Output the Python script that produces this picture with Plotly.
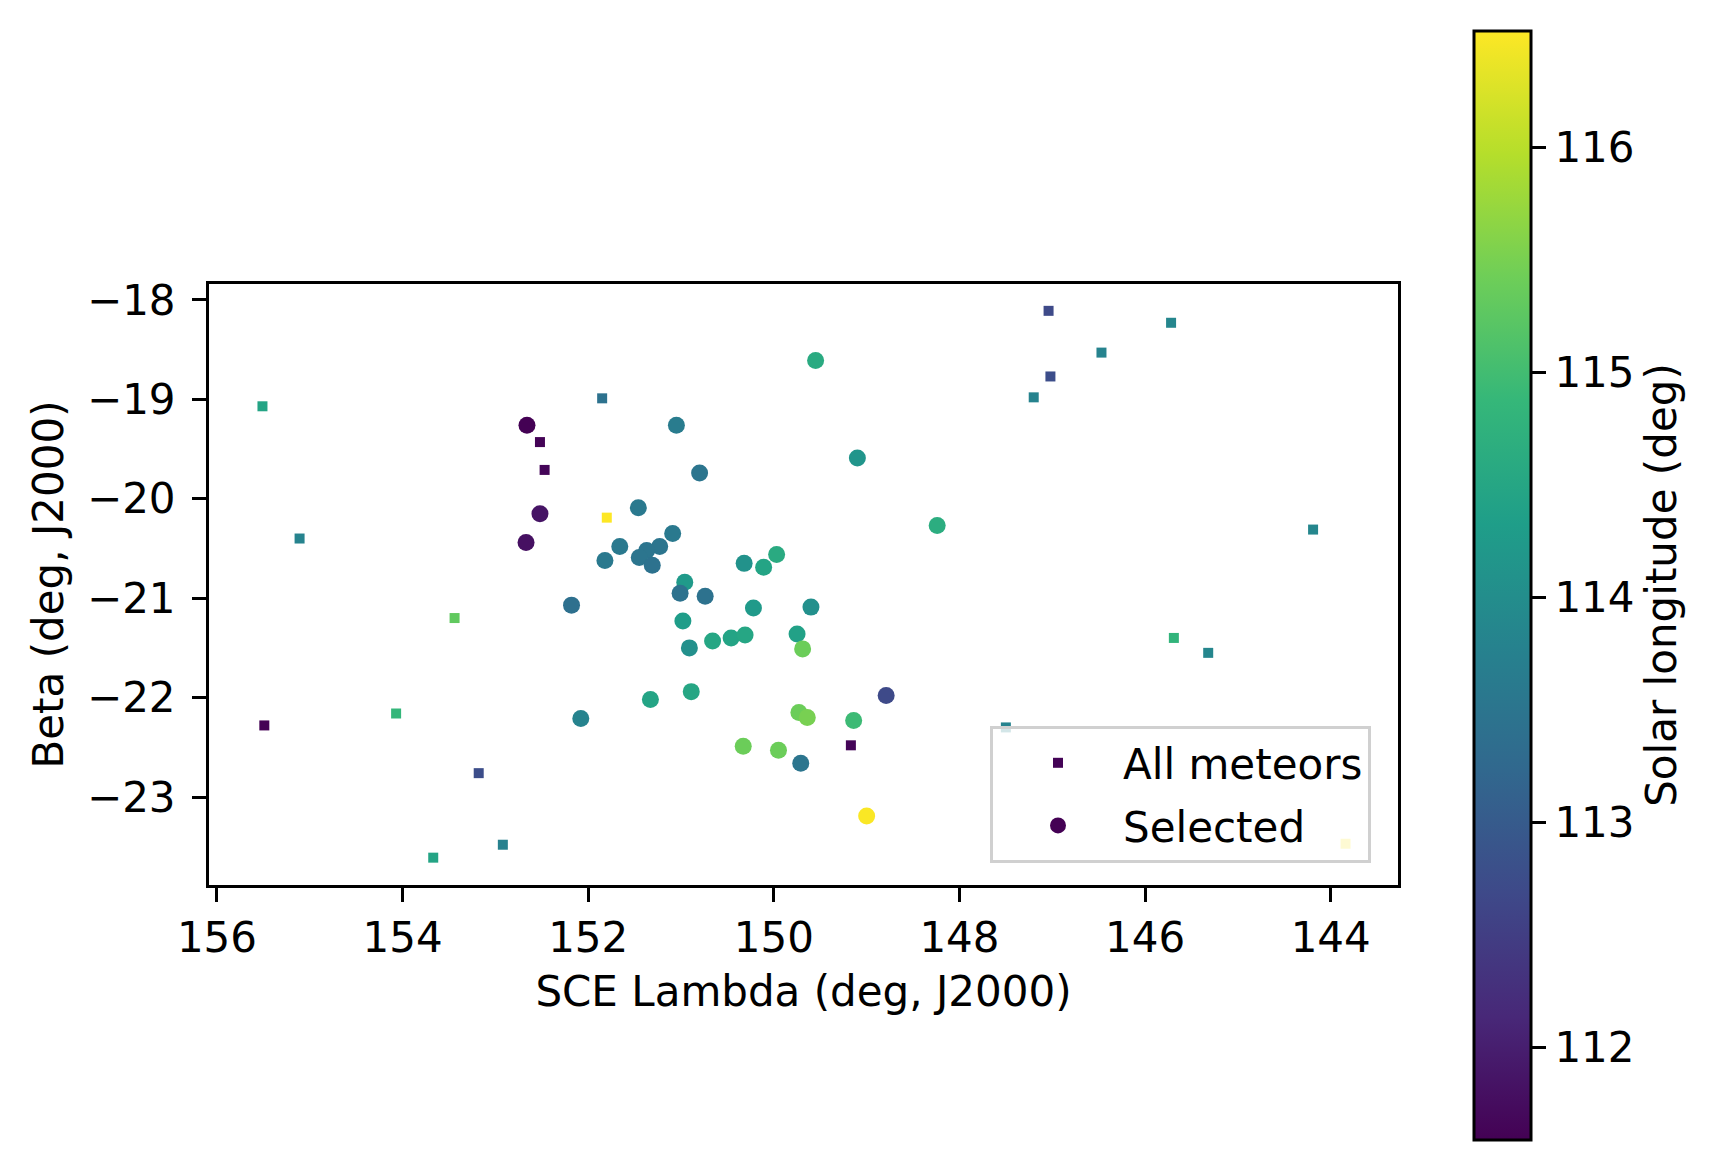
import plotly.graph_objects as go

# all meteors (small squares)
all_lam = [152.52, 155.51, 155.11, 155.49, 153.44, 154.07, 153.18, 153.67, 152.92,
           152.47, 151.85, 151.80, 147.04, 147.02, 147.20, 146.47, 145.72, 144.19,
           145.69, 145.32, 149.17, 147.50, 143.84]
all_beta = [-19.43, -19.07, -20.40, -22.28, -21.20, -22.16, -22.76, -23.61, -23.48,
            -19.71, -18.99, -20.19, -18.11, -18.77, -18.98, -18.53, -18.23, -20.31,
            -21.40, -21.55, -22.48, -22.30, -23.47]
all_sol = [111.62, 114.45, 113.80, 111.60, 115.30, 114.85, 112.75, 114.45, 113.75,
           111.65, 113.45, 116.52, 112.70, 112.75, 113.80, 113.80, 113.85, 113.85,
           114.80, 113.85, 111.65, 113.80, 116.50]

# selected meteors (circles)
sel_lam = [152.66, 152.52, 152.67, 151.05, 150.80, 151.46, 151.09, 151.23, 151.37,
           151.66, 151.82, 151.45, 151.31, 152.18, 150.96, 151.01, 150.74, 150.98,
           150.91, 150.66, 150.46, 150.31, 151.33, 150.89, 152.08, 149.55, 149.10,
           148.24, 150.32, 150.11, 149.97, 150.22, 149.60, 149.75, 149.69, 149.73,
           149.64, 149.14, 148.79, 150.33, 149.95, 149.71, 149.00]
sel_beta = [-19.26, -20.15, -20.44, -19.26, -19.74, -20.09, -20.35, -20.48, -20.52,
            -20.48, -20.62, -20.59, -20.67, -21.07, -20.84, -20.95, -20.98, -21.23,
            -21.50, -21.43, -21.40, -21.37, -22.02, -21.94, -22.21, -18.61, -19.59,
            -20.27, -20.65, -20.69, -20.56, -21.10, -21.09, -21.36, -21.51, -22.15,
            -22.20, -22.23, -21.98, -22.49, -22.53, -22.66, -23.19]
sel_sol = [111.59, 111.85, 111.80, 113.65, 113.50, 113.60, 113.60, 113.50, 113.50,
           113.60, 113.60, 113.50, 113.45, 113.40, 114.25, 113.45, 113.45, 114.30,
           114.05, 114.50, 114.45, 114.50, 114.45, 114.50, 113.80, 114.60, 114.15,
           114.65, 114.10, 114.45, 114.60, 114.25, 114.05, 114.40, 115.40, 115.40,
           115.50, 114.95, 112.70, 115.40, 115.40, 113.50, 116.50]

cb_ticks = [112, 113, 114, 115, 116]
x_ticks = [156, 154, 152, 150, 148, 146, 144]
y_ticks = [-18, -19, -20, -21, -22, -23]

W, H = 1725, 1159
OFF = 8  # page body margin
FONT = "DejaVu Sans"
FS = 42
CMIN, CMAX = 111.59, 116.52

colorbar = dict(
    x=(1474 - OFF) / W, xanchor="left", xref="paper",
    y=1 - (585 - OFF) / H, yanchor="middle", len=1109 / H, lenmode="fraction",
    thickness=57, thicknessmode="pixels", xpad=0, ypad=0,
    outlinewidth=3, outlinecolor="black",
    ticks="outside", ticklen=14, tickwidth=3, tickcolor="black",
    tickvals=cb_ticks, tickfont=dict(family=FONT, size=FS, color="black"),
    title=dict(text="Solar longitude (deg)", side="right",
               font=dict(family=FONT, size=FS, color="black")),
)

fig = go.Figure()

fig.add_trace(go.Scatter(
    x=all_lam, y=all_beta, mode="markers", name="All meteors", legendgroup="a",
    marker=dict(symbol="square", size=10, color=all_sol, colorscale="Viridis",
                cmin=CMIN, cmax=CMAX, showscale=False, line=dict(width=0)),
))
fig.add_trace(go.Scatter(
    x=sel_lam, y=sel_beta, mode="markers", name="Selected", legendgroup="b",
    marker=dict(symbol="circle", size=17, color=sel_sol, colorscale="Viridis",
                cmin=CMIN, cmax=CMAX, showscale=True, colorbar=colorbar,
                line=dict(width=0)),
))

axis_common = dict(
    showline=True, linewidth=3, linecolor="black", mirror=True,
    ticks="outside", ticklen=14, tickwidth=3, tickcolor="black",
    showgrid=False, zeroline=False, automargin=False,
    tickfont=dict(family=FONT, size=FS, color="black"),
)

fig.update_layout(
    width=W, height=H,
    margin=dict(l=0, r=0, t=0, b=0, autoexpand=False),
    paper_bgcolor="white", plot_bgcolor="white",
    font=dict(family=FONT, size=FS, color="black"),
    xaxis=dict(axis_common, domain=[(209 - OFF) / W, (1398 - OFF) / W],
               range=[156.086, 143.275], tickvals=x_ticks,
               ticklabelstandoff=0,
               title=dict(text="SCE Lambda (deg, J2000)", standoff=16,
                          font=dict(family=FONT, size=FS, color="black"))),
    yaxis=dict(axis_common, domain=[1 - (885 - OFF) / H, 1 - (284 - OFF) / H],
               range=[-23.885, -17.84], tickvals=y_ticks,
               ticklabelstandoff=8,
               title=dict(text="Beta (deg, J2000)", standoff=11,
                          font=dict(family=FONT, size=FS, color="black"))),
    legend=dict(
        x=(990 - OFF) / W, y=1 - (726 - OFF) / H, xanchor="left", yanchor="top",
        bgcolor="rgba(255,255,255,0.8)", bordercolor="#d0d0d0", borderwidth=3,
        font=dict(family=FONT, size=FS, color="black"),
        tracegroupgap=5, itemwidth=120,
    ),
)

fig.write_html("out.html")
